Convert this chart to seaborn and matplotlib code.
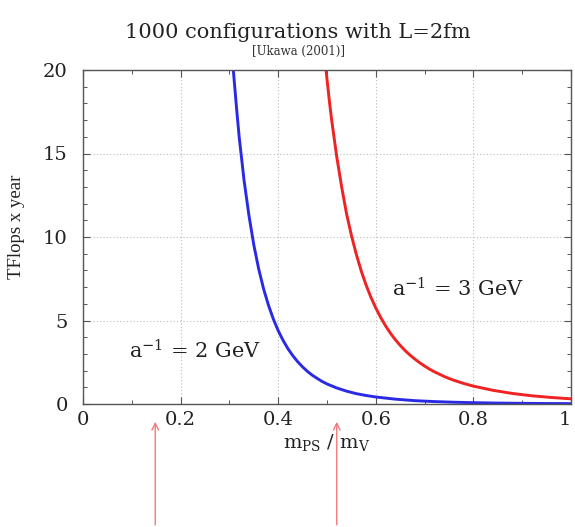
import matplotlib
matplotlib.use("Agg")
import matplotlib.pyplot as plt
import seaborn as sns
import pandas as pd
from matplotlib.ticker import MultipleLocator

# ---- data ----
blue_x = [0.308, 0.315, 0.32, 0.33, 0.34, 0.35, 0.36, 0.37, 0.38, 0.39, 0.40, 0.41,
          0.42, 0.43, 0.44, 0.45, 0.46, 0.47, 0.48, 0.49, 0.50, 0.52, 0.54, 0.56,
          0.58, 0.60, 0.64, 0.68, 0.72, 0.76, 0.80, 0.85, 0.90, 0.95, 1.00]
blue_y = [20.0, 17.6, 16.0, 13.4, 11.3, 9.53, 8.09, 6.90, 5.92, 5.09, 4.39, 3.81,
          3.31, 2.89, 2.53, 2.22, 1.95, 1.72, 1.53, 1.35, 1.20, 0.96, 0.77, 0.62,
          0.51, 0.42, 0.29, 0.20, 0.145, 0.106, 0.079, 0.055, 0.040, 0.029, 0.022]

red_x = [0.498, 0.505, 0.51, 0.52, 0.53, 0.54, 0.55, 0.56, 0.57, 0.58, 0.59, 0.60,
         0.61, 0.62, 0.63, 0.64, 0.65, 0.66, 0.67, 0.68, 0.69, 0.70, 0.71, 0.72,
         0.73, 0.74, 0.75, 0.76, 0.78, 0.80, 0.84, 0.88, 0.92, 0.96, 1.00]
red_y = [20.0, 18.1, 16.9, 14.8, 13.0, 11.4, 10.1, 8.97, 7.98, 7.13, 6.39, 5.75,
         5.18, 4.68, 4.24, 3.85, 3.51, 3.20, 2.93, 2.69, 2.47, 2.27, 2.09, 1.93,
         1.79, 1.65, 1.53, 1.42, 1.23, 1.07, 0.82, 0.63, 0.49, 0.39, 0.31]

series_labels = ["a$^{-1}$ = 2 GeV", "a$^{-1}$ = 3 GeV"]
label_pos_x = [0.23, 0.768]
label_pos_y = [3.2, 6.9]
arrow_x = [0.148, 0.52]

x_ticks = [0, 0.2, 0.4, 0.6, 0.8, 1.0]
x_tick_labels = ["0", "0.2", "0.4", "0.6", "0.8", "1"]
y_ticks = [0, 5, 10, 15, 20]
y_tick_labels = ["0", "5", "10", "15", "20"]

title = "1000 configurations with L=2fm"
subtitle = "[Ukawa (2001)]"

# ---- build data frame ----
df = pd.concat([
    pd.DataFrame({"x": blue_x, "y": blue_y, "s": series_labels[0]}),
    pd.DataFrame({"x": red_x, "y": red_y, "s": series_labels[1]}),
], ignore_index=True)

sns.set_style("ticks")
plt.rcParams["font.family"] = ["DejaVu Serif"]
plt.rcParams["mathtext.fontset"] = "dejavuserif"

fig = plt.figure(figsize=(5.75, 5.27), dpi=100)
ax = fig.add_axes([83 / 575, 1 - 404 / 527, 488 / 575, 334 / 527])

sns.lineplot(data=df, x="x", y="y", hue="s", palette=["#2a2ae6", "#f02222"],
             linewidth=2.1, legend=False, ax=ax, estimator=None, sort=False)
for ln in ax.get_lines():
    ln.set_solid_joinstyle("round")
    ln.set_antialiased(True)

ax.set_xlim(0, 1)
ax.set_ylim(0, 20)
ax.set_xticks(x_ticks)
ax.set_xticklabels(x_tick_labels)
ax.set_yticks(y_ticks)
ax.set_yticklabels(y_tick_labels)
ax.get_xticklabels()[-1].set_horizontalalignment("right")
ax.xaxis.set_minor_locator(MultipleLocator(0.1))
ax.yaxis.set_minor_locator(MultipleLocator(1))
ax.tick_params(which="both", direction="in", top=True, right=True,
               color="#555555")
ax.tick_params(which="major", length=5, width=0.8, labelsize=14,
               labelcolor="#222222")
ax.tick_params(axis="y", which="major", pad=11)
ax.tick_params(axis="x", which="major", pad=5)
ax.tick_params(which="minor", length=3, width=0.7)
for sp in ax.spines.values():
    sp.set_color("#555555")
    sp.set_linewidth(1.0)
ax.grid(True, which="major", linestyle=(0, (1, 2)), color="#bbbbbb",
        linewidth=0.8)

ax.set_xlabel("m$_{\\rm PS}$ / m$_{\\rm V}$", fontsize=14, color="#222222")
ax.xaxis.set_label_coords(0.5, -0.085)
ax.set_ylabel("TFlops x year", fontsize=13.5, family=["Liberation Serif"],
              color="#222222")
ax.yaxis.set_label_coords(-0.118, 0.53)

for lx, ly, lt in zip(label_pos_x, label_pos_y, series_labels):
    ax.text(lx, ly, lt, ha="center", va="center", fontsize=15, color="#222222")

for axx in arrow_x:
    ax.annotate("", xy=(axx, -0.045), xytext=(axx, -0.37),
                xycoords=("data", "axes fraction"),
                textcoords=("data", "axes fraction"),
                arrowprops=dict(arrowstyle="->", color="#f07a7a", lw=1.0,
                                mutation_scale=12),
                annotation_clip=False)

fig.text(298 / 575, 1 - 33 / 527, title, ha="center", va="center",
         fontsize=15, color="#222222")
fig.text(298 / 575, 1 - 51 / 527, subtitle, ha="center", va="center",
         fontsize=8.5, color="#333333")

fig.savefig("out.png", dpi=100)
